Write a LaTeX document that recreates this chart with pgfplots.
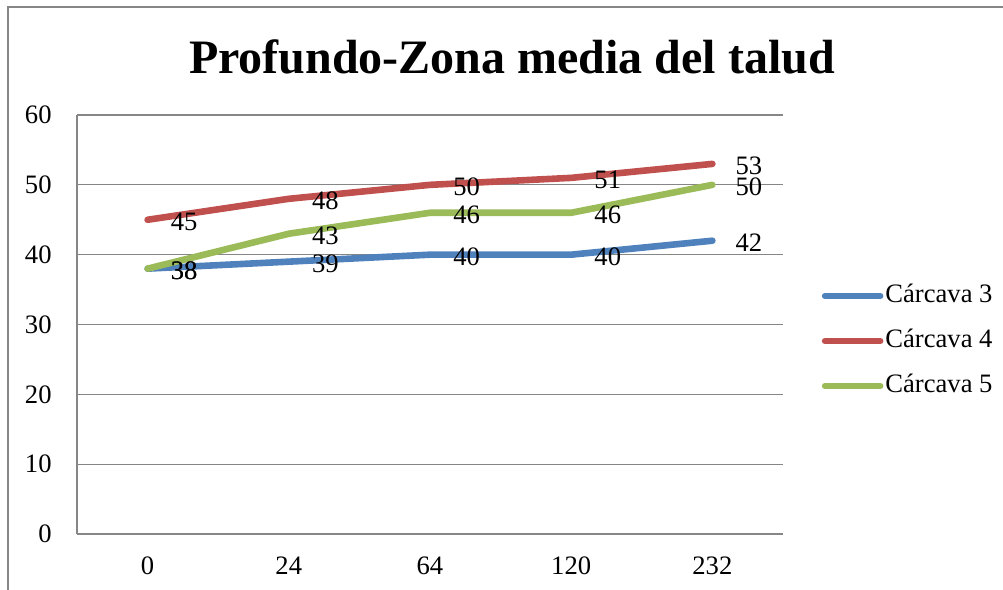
\documentclass[border=0pt]{standalone}
\usepackage{pgfplots}
\pgfplotsset{compat=1.18}
\usepackage{fontspec}
\setmainfont{Liberation Serif}

\definecolor{cblue}{HTML}{4F81BD}
\definecolor{cred}{HTML}{C0504D}
\definecolor{cgreen}{HTML}{9BBB59}
\definecolor{gridgray}{HTML}{868686}

\newcommand{\lblfont}{\fontsize{13.3}{15}\selectfont}

\begin{document}
\begin{tikzpicture}
  \path[use as bounding box] (0,0) rectangle (501.5pt,295pt);
  % chart area border (left and top edges visible)
  \draw[gridgray, line width=0.6pt] (4pt,0) -- (4pt,291.5pt) -- (501.5pt,291.5pt);

  \node[font=\fontsize{24}{28}\selectfont\bfseries] at (256pt,266.5pt) {Profundo-Zona media del talud};

  \begin{axis}[
    at={(38.5pt,28pt)}, anchor=south west,
    scale only axis,
    width=353pt, height=209.5pt,
    xmin=-0.5, xmax=4.5,
    ymin=0, ymax=60,
    xtick={0,1,2,3,4},
    xticklabels={0,24,64,120,232},
    ytick={0,10,20,30,40,50,60},
    major tick length=0pt,
    axis x line*=bottom,
    axis y line*=left,
    axis line style={gridgray, line width=0.6pt, -},
    ymajorgrids,
    grid style={gridgray, line width=0.6pt},
    tick label style={font=\lblfont},
    /pgf/number format/assume math mode=true,
    yticklabel style={inner sep=0pt, anchor=east, xshift=-12.5pt},
    xticklabel style={inner sep=0pt, anchor=north, yshift=-11.25pt},
    clip=false,
    nodes near coords,
    every node near coord/.append style={font=\lblfont, anchor=west,
      inner sep=0pt, xshift=10pt, yshift=-1pt, text=black},
    legend style={
      at={(1.055,0.4606)}, anchor=west,
      draw=none, fill=none,
      inner sep=0pt, outer sep=0pt,
      font=\lblfont,
      row sep=8.5pt,
      nodes={inner sep=1pt, text height=9pt, text depth=3pt},
    },
    legend cell align=left,
    legend image code/.code={%
      \draw[#1, line width=3.3pt, line cap=round] (0pt,0pt) -- (27.5pt,0pt);},
  ]
    \addplot[cblue, line width=3.3pt, line cap=round, line join=round] coordinates {
      (0,38) (1,39) (2,40) (3,40) (4,42)
    };
    \addlegendentry{Cárcava 3}

    \addplot[cred, line width=3.3pt, line cap=round, line join=round] coordinates {
      (0,45) (1,48) (2,50) (3,51) (4,53)
    };
    \addlegendentry{Cárcava 4}

    \addplot[cgreen, line width=3.3pt, line cap=round, line join=round] coordinates {
      (0,38) (1,43) (2,46) (3,46) (4,50)
    };
    \addlegendentry{Cárcava 5}
  \end{axis}
\end{tikzpicture}
\end{document}
